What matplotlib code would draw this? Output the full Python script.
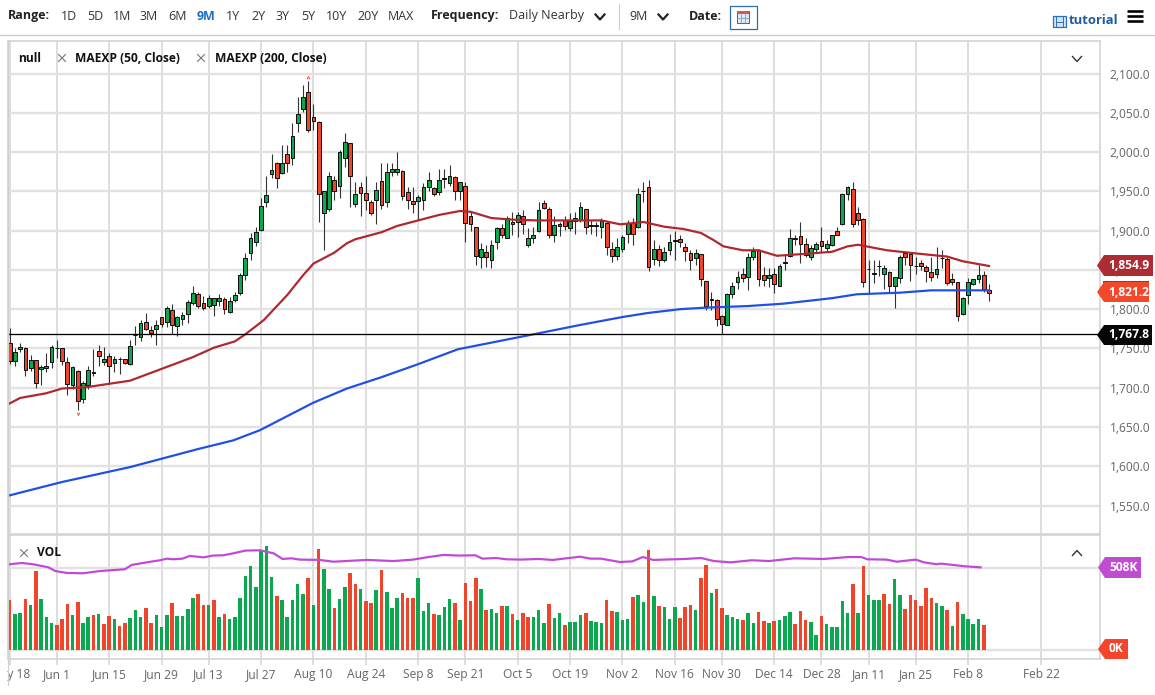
# -*- coding: utf-8 -*-
# daily candles with two exponential averages and a volume panel below
import matplotlib
matplotlib.use("Agg")
import matplotlib.pyplot as plt
from matplotlib.patches import Polygon, Rectangle
from matplotlib.transforms import Bbox

plt.rcParams['font.family'] = ['Open Sans', 'DejaVu Sans']

opens = [1757,1734,1749,1751,1725,1735,1724,1725,1733,1750,
         1750,1733,1703,1721,1686,1704,1719,1747,1733,1741,
         1732,1736,1736,1730,1767,1765,1784,1773,1775,1790,
         1784,1799,1779,1787,1794,1808,1819,1808,1804,1805,
         1811,1813,1797,1812,1820,1843,1871,1885,1901,1937,
         1972,1986,1973,1998,1993,2037,2055,2077,2045,2038,
         1922,1927,1964,1957,1993,2011,1934,1956,1948,1936,
         1939,1963,1937,1974,1975,1976,1949,1938,1938,1939,
         1955,1954,1949,1966,1961,1968,1951,1957,1919,1905,
         1867,1873,1863,1886,1903,1891,1911,1911,1918,1882,
         1891,1899,1935,1927,1895,1906,1913,1903,1912,1913,
         1927,1906,1906,1904,1910,1877,1868,1877,1896,1910,
         1904,1950,1956,1864,1876,1863,1875,1887,1889,1879,
         1872,1865,1870,1836,1812,1812,1791,1780,1819,1834,
         1845,1841,1866,1875,1843,1840,1845,1830,1859,1868,
         1891,1893,1883,1866,1877,1887,1878,1882,1899,1908,
         1946,1953,1922,1915,1851,1845,1855,1845,1847,1829,
         1840,1871,1870,1855,1859,1854,1847,1845,1865,1864,
         1839,1835,1794,1818,1832,1838,1844,1825]
closes = [1734,1746,1752,1722,1735,1706,1727,1728,1752,1750,
          1734,1705,1727,1683,1706,1722,1720,1740,1737,1728,
          1736,1736,1731,1753,1767,1782,1775,1770,1780,1781,
          1801,1780,1790,1793,1809,1821,1804,1802,1814,1814,
          1814,1800,1810,1818,1844,1865,1890,1898,1931,1945,
          1977,1967,1986,1986,2021,2049,2070,2028,2040,1946,
          1950,1970,1950,2000,2013,1970,1946,1948,1939,1923,
          1952,1933,1975,1978,1979,1944,1939,1934,1943,1955,
          1964,1947,1964,1966,1970,1950,1962,1910,1908,1868,
          1877,1866,1882,1903,1895,1916,1908,1920,1909,1891,
          1895,1926,1929,1894,1907,1909,1906,1912,1916,1930,
          1905,1906,1906,1912,1879,1868,1879,1892,1910,1896,
          1947,1951,1854,1876,1862,1873,1886,1887,1885,1874,
          1862,1872,1838,1804,1812,1788,1781,1819,1830,1841,
          1840,1866,1874,1838,1837,1844,1832,1855,1859,1890,
          1889,1883,1869,1878,1883,1880,1883,1894,1895,1947,
          1955,1909,1914,1835,1851,1845,1855,1852,1830,1841,
          1867,1866,1856,1855,1855,1849,1841,1851,1865,1833,
          1835,1791,1814,1834,1838,1843,1826,1821]
highs = [1776,1750,1757,1752,1742,1735,1729,1744,1754,1761,
         1750,1739,1728,1722,1708,1728,1749,1754,1752,1744,
         1740,1739,1737,1761,1778,1786,1795,1778,1786,1790,
         1804,1807,1791,1797,1812,1829,1822,1817,1818,1814,
         1819,1816,1816,1822,1846,1871,1897,1905,1941,1970,
         1998,1988,2009,2009,2037,2070,2085,2090,2061,2040,
         1950,1974,1969,2003,2024,2011,1962,1962,1969,1939,
         1962,1986,1986,1986,2000,1977,1956,1956,1945,1960,
         1975,1956,1979,1979,1983,1969,1962,1962,1924,1905,
         1884,1882,1888,1905,1908,1918,1924,1924,1926,1903,
         1905,1937,1939,1930,1918,1911,1918,1922,1924,1936,
         1928,1913,1911,1916,1911,1886,1890,1894,1913,1916,
         1954,1962,1965,1888,1882,1879,1896,1899,1894,1884,
         1875,1877,1870,1836,1822,1813,1792,1820,1835,1848,
         1853,1872,1879,1877,1854,1852,1852,1858,1869,1902,
         1895,1911,1890,1882,1886,1904,1888,1894,1904,1948,
         1957,1962,1930,1916,1863,1863,1863,1856,1848,1841,
         1869,1874,1871,1867,1863,1856,1867,1879,1875,1867,
         1846,1835,1816,1840,1839,1856,1849,1832]
lows = [1730,1728,1745,1715,1721,1700,1703,1720,1725,1738,
        1729,1691,1699,1672,1681,1699,1715,1728,1729,1705,
        1720,1718,1730,1729,1754,1759,1774,1765,1754,1777,
        1777,1768,1766,1780,1782,1805,1801,1799,1802,1791,
        1804,1794,1795,1809,1818,1837,1863,1880,1900,1930,
        1967,1954,1972,1975,1983,2026,2051,2025,2028,1911,
        1875,1925,1939,1941,1981,1930,1930,1918,1926,1920,
        1909,1928,1930,1969,1971,1939,1928,1922,1913,1926,
        1950,1944,1945,1954,1957,1939,1939,1886,1899,1856,
        1852,1854,1852,1877,1891,1891,1894,1892,1896,1879,
        1884,1898,1928,1890,1886,1893,1901,1899,1896,1911,
        1896,1896,1893,1890,1869,1860,1863,1873,1884,1882,
        1903,1937,1848,1856,1855,1860,1869,1862,1879,1861,
        1850,1856,1829,1799,1799,1778,1769,1780,1814,1826,
        1835,1825,1862,1829,1829,1828,1820,1829,1850,1867,
        1882,1859,1866,1862,1873,1873,1873,1880,1894,1907,
        1939,1904,1907,1828,1819,1833,1842,1826,1822,1802,
        1833,1856,1836,1845,1850,1834,1836,1840,1852,1831,
        1831,1785,1792,1807,1831,1833,1822,1811]

ema50_bars = [0,2,7,10,15,19,23,29,35,39,43,45,48.5,53,56,58,62,64.4,66,71,74,78,82,86,88,
              92,96,100.7,106.4,113,116.6,121,125,128.7,132,134.4,136.3,140,143,146.5,151,
              157,160,162,167.5,173,179,182,187]
ema50 = [1680,1687,1693,1699,1701,1705,1709,1724,1739,1751,1759,1768,1786,1818,1843,1858,1872,1884,
         1889,1898,1906,1913,1920,1925,1924,1916,1914,1913,1913,1913,1908,1911,1905,1902,1897,1888,
         1880,1875,1875,1868,1870,1873,1880,1882,1875,1871,1867,1861,1855]
ema200_bars = [0,10,23,36,42.7,47.8,58,64.4,70.8,78,85.6,100,109,117,121.7,128,133,141,147.7,157,161.8,170,176,187]
ema200 = [1563,1580,1599,1622,1633,1646,1681,1699,1713,1730,1749,1768,1780,1790,1795,1800,1802,1804,1807,
          1814,1819,1821,1824,1824]

volumes = [311,222,230,319,280,491,317,203,168,155,
           191,284,218,299,168,203,220,224,162,211,
           193,151,168,201,247,207,261,168,216,143,
           218,290,209,209,255,323,346,278,278,311,
           205,224,193,207,323,458,520,392,620,647,
           452,336,311,203,309,410,348,448,278,628,
           504,377,261,319,390,479,413,379,307,292,
           373,500,359,261,325,354,321,323,446,243,
           290,222,216,265,317,292,187,417,303,446,
           377,247,255,230,272,274,222,187,232,207,
           205,251,168,286,197,230,155,174,174,216,
           232,182,176,166,311,243,234,184,195,332,
           340,299,622,336,276,269,193,267,197,269,
           278,247,450,527,354,379,259,218,203,193,
           187,230,166,236,180,168,178,184,211,234,
           162,245,187,172,95,209,160,145,145,303,
           228,413,228,524,342,309,311,350,284,439,
           342,257,342,313,274,383,323,294,274,251,
           151,296,222,193,164,191,153]
vol_dirs = ("rggrgrgggr" "rrgrggrgrr" "grrgggrrgg" "grggggrrgr" "grgggggggg"
            "grgggggrgr" "ggrggrrgrr" "grgggrrrgg" "grgggrgrrr" "grggrgrgrr"
            "gggrggrggg" "rgggrrgggr" "ggrgrgggrr" "rgrrgrrggg" "rggrrgrggg"
            "rrrggrgggg" "grgrgggrrg" "grrrrrrggr" "grggggr")
vol_avg_bars = [0,2.3,4.5,7.4,8.7,10.9,14,17.3,22,23.3,26.2,28.7,30,31.2,33,34.4,37,38.8,40.8,
                42.7,45,47.8,50.4,52.1,53.8,55.4,59.2,61.8,68.2,73.3,77,79.6,82.8,86,88.9,90.3,
                92.9,94.9,97.6,101,103.7,108.9,110.9,112.9,116.5,118.9,120.9,122.9,128.9,132,
                134.5,137.7,141.7,145,149.8,155.4,160.2,162.6,163.8,167.4,169.4,173,174.6,177,
                177.8,182.6,185.4]
vol_avg = [533,541,533,514,491,479,477,491,502,529,545,558,568,564,568,585,576,587,589,601,618,620,
           601,566,570,562,560,549,560,553,562,576,591,587,589,568,572,564,562,566,560,580,568,568,
           547,551,578,560,566,572,553,545,558,553,570,566,578,578,564,562,549,562,545,533,537,520,514]

tick_bars = [0,9,19,29,38,48,58,68,78,87,97,107,117,127,136,146,155,164,173,183,197]
tick_labels = ["May 18","Jun 1","Jun 15","Jun 29","Jul 13","Jul 27","Aug 10","Aug 24","Sep 8","Sep 21",
               "Oct 5","Oct 19","Nov 2","Nov 16","Nov 30","Dec 14","Dec 28","Jan 11","Jan 25","Feb 8","Feb 22"]
price_ticks = [1550,1600,1650,1700,1750,1800,1850,1900,1950,2000,2050,2100]
range_labels = ["1D","5D","1M","3M","6M","9M","1Y","2Y","3Y","5Y","10Y","20Y","MAX"]
range_x = [61,87,113,140,168,197,226,251,276,301,326,357,388]
last_level = 1767.8
ema50_last = 1854.9
ema200_last = 1821.2

GREEN = "#0aa84f"
RED = "#f0452a"
GRID = "#e2e2e2"
VGRID = "#d6d6d6"
LABEL = "#666666"
W, H = 1155, 695


def px(v):
    return v * 0.72


def axes_at(left, top, right, bottom):
    return fig.add_axes([left / W, 1 - bottom / H, (right - left) / W, (bottom - top) / H])


fig = plt.figure(figsize=(W / 100, H / 100), dpi=100, facecolor="white")
ax = axes_at(8, 41, 1100, 534)
vol = axes_at(8, 535, 1100, 659)
xlim = (-0.32, 208.2)

for a in (ax, vol):
    a.set_xlim(*xlim)
    a.set_axisbelow(True)
    for s in a.spines.values():
        s.set_color("#d4d4d4")
        s.set_linewidth(1.2)
    a.set_xticks(tick_bars)
    a.grid(axis="x", color=VGRID, lw=px(1.6))
    a.grid(axis="y", color=GRID, lw=px(2.4))

ax.set_ylim(1513.8, 2141.4)
ax.set_yticks(price_ticks)
ax.set_yticklabels(["{:,.1f}".format(p) for p in price_ticks])
ax.yaxis.tick_right()
ax.tick_params(axis="y", length=0, pad=7.0, labelsize=px(12), labelcolor=LABEL)
ax.tick_params(axis="x", length=0, labelbottom=False)

# candles, wicks first so the bodies sit on top
bars = list(range(len(opens)))
ax.vlines(bars, lows, highs, color="#333333", lw=px(1.1), zorder=3)
tops = [max(o, c) for o, c in zip(opens, closes)]
bottoms = [min(o, c) for o, c in zip(opens, closes)]
colors = [GREEN if c >= o else RED for o, c in zip(opens, closes)]
sizes = [max(t - b, 0.6) for t, b in zip(tops, bottoms)]
ax.bar(bars, sizes, bottom=bottoms, width=0.72, color=colors, edgecolor="#111111", lw=px(1), zorder=4)

ax.plot(ema50_bars, ema50, color="#b0282e", lw=px(2.2), zorder=5)
ax.plot(ema200_bars, ema200, color="#1f4fe8", lw=px(2.2), zorder=5)
ax.axhline(last_level, color="black", lw=px(1.3), zorder=6)

# little marks over the highest high and under the lowest low
hi_bar = highs.index(max(highs))
lo_bar = lows.index(min(lows))
ax.plot([hi_bar], [max(highs) + 5], marker="^", ms=2, mfc="none", mec=RED, mew=0.5, zorder=6)
ax.plot([lo_bar], [min(lows) - 5], marker="v", ms=2, mfc="none", mec=RED, mew=0.5, zorder=6)

vol.set_ylim(-56, 715)
vol.set_yticks([0, 508])
vol.tick_params(axis="y", length=0, labelleft=False)
vol.tick_params(axis="x", length=4, color=VGRID, width=px(1.6), pad=2.5, labelsize=px(12), labelcolor=LABEL)
vol.set_xticklabels(tick_labels)
vol_colors = [GREEN if d == "g" else RED for d in vol_dirs]
vol.bar(range(len(volumes)), volumes, width=0.68, color=vol_colors, lw=0, zorder=3)
vol.plot(vol_avg_bars, vol_avg, color="#c04ad6", lw=px(2.2), zorder=4)

# the first date label runs off the left edge of the panel
vol.get_xticklabels()[0].set_clip_box(Bbox([[7, 0], [60, H]]))
vol.get_xticklabels()[0].set_clip_on(True)

# everything around the chart, drawn in pixel coordinates
ui = fig.add_axes([0, 0, 1, 1], zorder=10)
ui.set_xlim(0, W)
ui.set_ylim(H, 0)
ui.axis("off")
ui.patch.set_alpha(0)


def label(x, y, s, bold=False, color="#222222", size=12.5, ha="left"):
    ui.text(x, y, s, fontsize=px(size), fontweight="bold" if bold else "normal", color=color, ha=ha, va="center")


def chevron(x, y, up=False, lw=1.0, color="#333333", w=4.5, h=2.5):
    d = -h if up else h
    ui.plot([x - w, x, x + w], [y - d, y + d, y - d], color=color, lw=lw)


def cross(x, y):
    ui.plot([x - 3.5, x + 3.5], [y - 3.5, y + 3.5], color="#777777", lw=0.8)
    ui.plot([x - 3.5, x + 3.5], [y + 3.5, y - 3.5], color="#777777", lw=0.8)


def tag(left, right, top, bottom, color, text):
    mid = (top + bottom) / 2
    ui.add_patch(Polygon([(left, mid), (left + 7, top), (right, top), (right, bottom), (left + 7, bottom)],
                         closed=True, fc=color, ec="none", zorder=5))
    ui.text(left + 11, mid, text, color="white", fontsize=px(12), fontweight="bold", va="center", zorder=6)


ui.plot([0, W], [35, 35], color="#cccccc", lw=px(1.4))
ui.plot([7.5, 7.5], [41, 685], color="#cfcfcf", lw=px(1.2))

label(8, 16, "Range:", bold=True)
for x, s in zip(range_x, range_labels):
    label(x, 16, s, color="#1a6fc4" if s == "9M" else "#333333", bold=s == "9M")
label(431, 16, "Frequency:", bold=True)
label(509, 16, "Daily Nearby", color="#333333")
chevron(600, 17, lw=1.6, color="#222222")
ui.plot([618.5, 618.5], [4, 29], color="#cccccc", lw=0.8)
label(629, 16, "9M", color="#333333")
chevron(663, 17, lw=1.6, color="#222222")
label(689, 16, "Date:", bold=True)
ui.add_patch(Rectangle((729.5, 5.5), 27, 23, fc="white", ec="#2b6cb0", lw=0.9))
ui.add_patch(Rectangle((737, 11), 12, 12, fc="#dfe8f5", ec="#555a80", lw=0.7))
ui.add_patch(Rectangle((737, 11), 12, 3, fc="#d9534f", ec="none"))
ui.plot([741, 741], [13, 23], color="#7d8db5", lw=0.5)
ui.plot([745, 745], [13, 23], color="#7d8db5", lw=0.5)
ui.plot([737, 749], [18, 18], color="#7d8db5", lw=0.5)

ui.add_patch(Rectangle((1052.5, 16), 13, 11, fc="#d5e4f5", ec="#2a70c0", lw=0.9))
ui.plot([1055.5, 1055.5], [16, 27], color="#2a70c0", lw=0.7)
ui.plot([1062.5, 1062.5], [16, 27], color="#2a70c0", lw=0.7)
ui.plot([1055.5, 1062.5], [21.5, 21.5], color="#2a70c0", lw=0.7)
label(1069, 21, "tutorial", bold=True, color="#1d5c9e", size=13)
for y in (11, 16, 21):
    ui.plot([1127, 1143], [y, y], color="black", lw=px(2.6), solid_capstyle="butt")

label(18, 59, "null", bold=True, color="#111111", size=12)
cross(62, 58)
label(75, 59, "MAEXP (50, Close)", bold=True, color="#111111", size=12)
cross(201, 58)
label(215, 59, "MAEXP (200, Close)", bold=True, color="#111111", size=12)
chevron(1077, 59)
cross(24, 553)
label(37, 553, "VOL", bold=True, color="#111111", size=12)
chevron(1077, 553, up=True)

ui.add_patch(Rectangle((1103, 281), 46, 5, fc="#1f4fe8", ec="none", zorder=4))
tag(1097, 1153, 255, 276, "#ad2b32", "{:,.1f}".format(ema50_last))
tag(1097, 1149, 282, 302, "#f2492a", "{:,.1f}".format(ema200_last))
tag(1097, 1152, 325, 345, "#050505", "{:,.1f}".format(last_level))
tag(1098, 1141, 557, 578, "#c04cd0", "508K")
tag(1098, 1128, 639, 659, "#f4442a", "0K")

fig.savefig("out.png", dpi=100)
